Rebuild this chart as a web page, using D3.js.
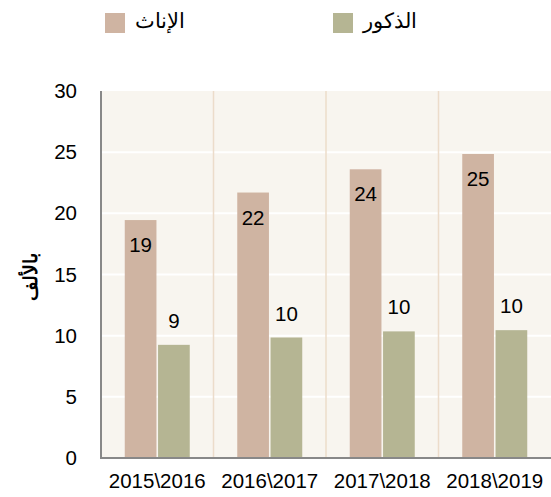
<!DOCTYPE html>
<html>
<head>
<meta charset="utf-8">
<script src="https://cdn.jsdelivr.net/npm/d3@7"></script>
<style>
body { margin: 0; background: #fff; }
text { font-family: Arial, "Liberation Sans", sans-serif; }
</style>
</head>
<body>
<script>
let years = ["2015\\2016", "2016\\2017", "2017\\2018", "2018\\2019"];
let female = [19.45, 21.7, 23.6, 24.85];
let male = [9.25, 9.85, 10.35, 10.45];
let femaleLbl = ["19", "22", "24", "25"];
let maleLbl = ["9", "10", "10", "10"];
let yTicks = [0, 5, 10, 15, 20, 25, 30];
let seriesNames = ["الإناث", "الذكور"];
let colors = ["#cfb4a2", "#b5b593"];

let w = 551, h = 497;
let padL = 101, padR = 551, padT = 91, padB = 458;
let fs = 20.5;

let svg = d3.select("body").append("svg")
  .attr("width", w).attr("height", h);

let x = d3.scaleBand().domain(years).range([padL, padR]);
let y = d3.scaleLinear().domain([0, 30]).range([padB, padT]);

// plot bg
svg.append("rect")
  .attr("x", padL).attr("y", padT)
  .attr("width", padR - padL).attr("height", padB - padT)
  .attr("fill", "#f8f5ef");

// grid
svg.selectAll(".grid").data(yTicks.slice(1, -1)).enter()
  .append("line")
  .attr("x1", padL).attr("x2", padR)
  .attr("y1", d => y(d)).attr("y2", d => y(d))
  .attr("stroke", "#fff").attr("stroke-width", 2);

// category separators
svg.selectAll(".sep").data(years.slice(1)).enter()
  .append("line")
  .attr("x1", d => x(d)).attr("x2", d => x(d))
  .attr("y1", padT).attr("y2", padB)
  .attr("stroke", "#ecdcca").attr("stroke-width", 1.5);

let bw = 31.7;
let gap = 1.6;
let off = (x.bandwidth() - 2 * bw - gap) / 2;

svg.selectAll(".f").data(female).enter()
  .append("rect")
  .attr("x", (d, i) => x(years[i]) + off)
  .attr("y", d => y(d))
  .attr("width", bw)
  .attr("height", d => padB - y(d))
  .attr("fill", colors[0]);

svg.selectAll(".m").data(male).enter()
  .append("rect")
  .attr("x", (d, i) => x(years[i]) + off + bw + gap)
  .attr("y", d => y(d))
  .attr("width", bw)
  .attr("height", d => padB - y(d))
  .attr("fill", colors[1]);

// labels
svg.selectAll(".fl").data(female).enter()
  .append("text")
  .attr("x", (d, i) => x(years[i]) + off + bw / 2)
  .attr("y", d => y(d) + 32)
  .attr("text-anchor", "middle")
  .attr("font-size", fs)
  .text((d, i) => femaleLbl[i]);

svg.selectAll(".ml").data(male).enter()
  .append("text")
  .attr("x", (d, i) => x(years[i]) + off + bw * 1.5 + gap)
  .attr("y", d => y(d) - 17)
  .attr("text-anchor", "middle")
  .attr("font-size", fs)
  .text((d, i) => maleLbl[i]);

// axes
let yAxis = d3.axisLeft(y).tickValues(yTicks).tickSize(0).tickPadding(24);
let yg = svg.append("g").attr("transform", "translate(" + padL + ",0)").call(yAxis);
yg.select(".domain").remove();
yg.selectAll("text").attr("font-size", fs).attr("font-family", "Arial, 'Liberation Sans'").attr("fill", "#000");

let xAxis = d3.axisBottom(x).tickSize(0).tickPadding(15);
let xg = svg.append("g").attr("transform", "translate(0," + padB + ")").call(xAxis);
xg.select(".domain").remove();
xg.selectAll("text").attr("font-size", fs).attr("font-family", "Arial, 'Liberation Sans'").attr("fill", "#000");

svg.append("path")
  .attr("d", "M" + padL + "," + padT + "V" + padB + "H" + padR)
  .attr("fill", "none").attr("stroke", "#888").attr("stroke-width", 2);

// y title
svg.append("text")
  .attr("transform", "translate(37," + (y(15) + 2) + ") rotate(-90)")
  .attr("text-anchor", "middle")
  .attr("font-family", "'DejaVu Sans'")
  .attr("font-weight", "bold")
  .attr("font-size", 19)
  .text("بالألف");

// legend
let legX = [105, 333];
let lg = svg.selectAll(".leg").data(seriesNames).enter()
  .append("g")
  .attr("transform", (d, i) => "translate(" + legX[i] + ",13)");
lg.append("rect").attr("width", 20).attr("height", 20).attr("fill", (d, i) => colors[i]);
lg.append("text")
  .attr("x", 30).attr("y", 15)
  .attr("direction", "ltr")
  .attr("font-family", "'DejaVu Sans'")
  .attr("font-size", 21)
  .text(d => d);
</script>
</body>
</html>
